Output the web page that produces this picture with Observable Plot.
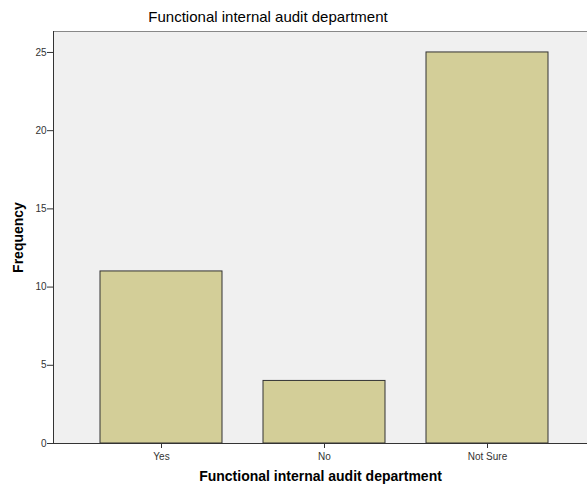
<!DOCTYPE html>
<html><head><meta charset="utf-8">
<script src="https://cdn.jsdelivr.net/npm/d3@7"></script>
<script src="https://cdn.jsdelivr.net/npm/@observablehq/plot@0.6"></script>
<style>
body{margin:0;background:#fff;font-family:"Liberation Sans",Arial,sans-serif;}
#wrap{position:relative;width:587px;height:486px;overflow:hidden;}
#title{height:31px;position:relative;}
#title span{position:absolute;left:268px;top:8px;transform:translateX(-50%);font-size:15px;white-space:nowrap;color:#000;}
</style></head><body>
<div id="wrap"><div id="title"><span>Functional internal audit department</span></div><div id="chart"></div></div>
<script>
const categories = ["Yes", "No", "Not Sure"];
const frequencies = [11, 4, 25];
const yTicks = [0, 5, 10, 15, 20, 25];
const xLabel = "Functional internal audit department";
const yLabel = "Frequency";

const data = categories.map((c, i) => ({category: c, frequency: frequencies[i]}));

const leftLine = (index, scales, values, dims) => {
  const x = dims.marginLeft + 0.5;
  return d3.create("svg:line")
    .attr("x1", x).attr("x2", x)
    .attr("y1", dims.marginTop).attr("y2", dims.height - dims.marginBottom)
    .attr("stroke", "#333").node();
};

const chart = Plot.plot({
  width: 587, height: 455,
  marginLeft: 53, marginRight: 0, marginTop: 0, marginBottom: 43,
  style: {fontFamily: "'Liberation Sans', Arial, sans-serif", fontSize: "10px", color: "#333", background: "transparent", overflow: "visible"},
  x: {type: "band", domain: categories, range: [53, 596], paddingInner: 0.25, paddingOuter: 0.29, label: null},
  y: {domain: [0, 26.34], label: null},
  marks: [
    Plot.frame({fill: "#f0f0f0", stroke: "#888"}),
    Plot.barY(data, {x: "category", y: "frequency", fill: "#d3ce98", stroke: "#333", strokeWidth: 1}),
    Plot.axisY({ticks: yTicks, tickSize: 6, tickPadding: 1, label: null, stroke: "#333"}),
    Plot.axisX({tickSize: 5, tickPadding: 4, label: null, stroke: "#333"}),
    Plot.ruleY([0], {stroke: "#333"}),
    leftLine,
    Plot.text([xLabel], {frameAnchor: "bottom", dy: 33, textAnchor: "middle", lineAnchor: "middle", fontWeight: "bold", fontSize: 14, fill: "#000"}),
    Plot.text([yLabel], {frameAnchor: "left", dx: -35, textAnchor: "middle", lineAnchor: "middle", rotate: -90, fontWeight: "bold", fontSize: 14, fill: "#000"})
  ]
});
document.getElementById("chart").appendChild(chart);
</script>
</body></html>
